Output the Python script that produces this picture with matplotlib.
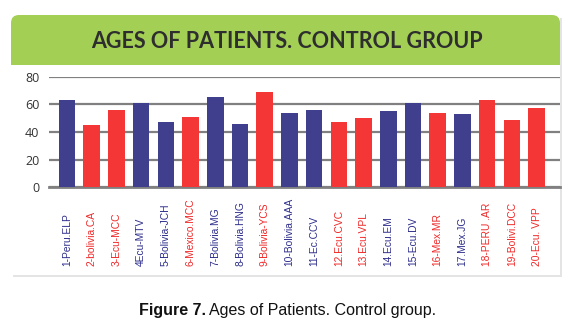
import matplotlib
matplotlib.use("Agg")
import matplotlib.pyplot as plt
from matplotlib.patches import FancyBboxPatch, Rectangle
from matplotlib.transforms import blended_transform_factory

# data
patients = ["1-Peru.ELP", "2-bolivia.CA", "3-Ecu-MCC", "4Ecu-MTV", "5-Bolivia-JCH",
            "6-Mexico.MCC", "7-Bolivia.MG", "8-Bolivia.HNG", "9-Bolivia-YCS", "10-Bolivia.AAA",
            "11-Ec.CCV", "12.Ecu.CVC", "13.Ecu.VPL", "14.Ecu.EM", "15-Ecu.DV",
            "16-Mex.MR", "17.Mex.JG", "18-PERU .AR", "19-Bolivi.DCC", "20-Ecu. VPP"]
ages = [63, 45, 56, 61, 47, 51, 65, 46, 69, 54, 56, 47, 50, 55, 61, 54, 53, 63, 49, 57]
group = ["b", "r", "r", "b", "b", "r", "b", "b", "r", "b",
         "b", "r", "r", "b", "b", "r", "b", "r", "r", "r"]
yticks = [0, 20, 40, 60, 80]

BLUE = "#3f3f8e"
RED = "#f43636"
LBL = {"b": "#2e2e8c", "r": "#f02828"}
W, H = 578, 335

fig = plt.figure(figsize=(W / 100, H / 100), dpi=100)

# background layer in pixel coords
bg = fig.add_axes([0, 0, 1, 1])
bg.set_xlim(0, W)
bg.set_ylim(H, 0)
bg.axis("off")
bg.add_patch(Rectangle((13, 18), 549, 259, facecolor="#e4e4e4", edgecolor="none"))
bg.add_patch(Rectangle((11, 16), 549, 259, facecolor="white", edgecolor="none"))
bg.add_patch(FancyBboxPatch((11 + 8, 15 + 8), 549 - 16, 50 - 16,
                            boxstyle="round,pad=8", facecolor="#a3cf55", edgecolor="none"))
bg.add_patch(Rectangle((11, 45), 549, 20, facecolor="#a3cf55", edgecolor="none"))
bg.text(287, 41, "AGES OF PATIENTS. CONTROL GROUP", ha="center", va="center",
        fontsize=15.5, fontweight="bold", color="#2e2e2e", family="Lato")

# caption: bold part then regular part right after it
cap1 = bg.text(139, 311, "Figure 7.", ha="left", va="center", fontsize=11.5,
               fontweight="bold", color="#111111", family="Liberation Sans")
fig.canvas.draw()
bb = cap1.get_window_extent()
x2 = bg.transData.inverted().transform((bb.x1, bb.y0))[0] + 3
bg.text(x2, 311, "Ages of Patients. Control group.", ha="left", va="center",
        fontsize=11.5, color="#111111", family="Liberation Sans")

# chart
left, right, top, bottom = 49, 560, 76.5, 187.5
ax = fig.add_axes([left / W, 1 - bottom / H, (right - left) / W, (bottom - top) / H])
ax.patch.set_alpha(0)
x = list(range(len(ages)))
colors = [BLUE if g == "b" else RED for g in group]
ax.bar(x, ages, width=0.67, color=colors, zorder=3)
ax.set_xlim(-0.73, len(ages) - 0.05)
ax.set_ylim(0, 80)
ax.set_yticks(yticks)
ax.set_yticklabels([str(v) for v in yticks], family="Open Sans", fontsize=9, color="#333333")
ax.tick_params(axis="y", length=0, pad=7)
ax.set_xticks([])
ax.grid(axis="y", color="#808080", linewidth=1.6, zorder=0)
for s in ["top", "right", "left"]:
    ax.spines[s].set_visible(False)
ax.spines["bottom"].set_color("#808080")
ax.spines["bottom"].set_linewidth(2)

tr = blended_transform_factory(ax.transData, fig.transFigure)
for i, name in enumerate(patients):
    ax.text(i, 1 - 266 / H, name, transform=tr, rotation=90, ha="center", va="bottom",
            fontsize=7.4, color=LBL[group[i]], family="Liberation Sans")

fig.savefig("out.png", dpi=100)
